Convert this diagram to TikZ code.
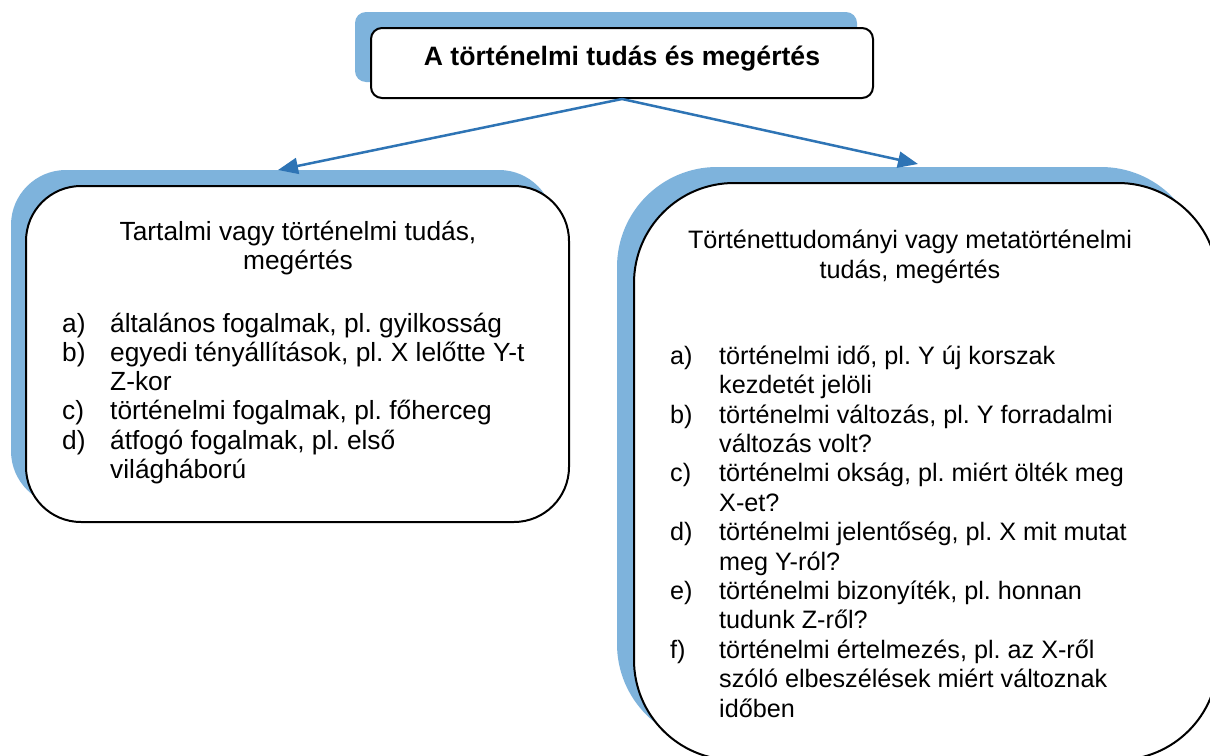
\documentclass[tikz,border=0pt]{standalone}
\usepackage{fontspec}
\setmainfont{Liberation Sans}
\usetikzlibrary{arrows.meta,calc}
\definecolor{shadowblue}{RGB}{126,179,220}
\definecolor{arrowblue}{RGB}{46,116,181}
\newcommand\mylbl[1]{\makebox[48pt][l]{#1}}
\newcommand\myind{\hspace*{48pt}}
\newcommand\mylblr[1]{\makebox[49pt][l]{#1}}
\newcommand\myindr{\hspace*{49pt}}
\begin{document}
\frenchspacing
\begin{tikzpicture}[x=1pt,y=-1pt,
  box/.style={draw=black, line width=2pt, fill=white, inner sep=0pt},
  shadowbox/.style={fill=shadowblue},
  ltxt/.style={inner sep=0pt, font=\fontsize{26.3}{29.3}\selectfont},
  rtxt/.style={inner sep=0pt, font=\fontsize{25.2}{29.4}\selectfont},
  conn/.style={draw=arrowblue, line width=2.5pt, -{Triangle[length=20pt,width=16pt]}}]
\clip (0,0) rectangle (1210,755);
\fill[white] (0,0) rectangle (1210,755);
% top box
\fill[shadowbox, rounded corners=11pt] (355,12) rectangle (857,82);
\node[box, rounded corners=11pt, minimum width=502pt, minimum height=70pt] (top) at (622,63) {};
\node[inner sep=0pt, font=\fontsize{26.6}{30}\selectfont\bfseries] (toptxt) at (622,59) {A történelmi tudás és megértés};
% left box
\fill[shadowbox, rounded corners=55pt] (11,170) rectangle (554,506);
\node[box, rounded corners=55pt, minimum width=543pt, minimum height=336pt] (left) at (297.5,354) {};
% right box
\fill[shadowbox, rounded corners=100pt] (617,167) rectangle (1201,744);
\node[box, rounded corners=100pt, minimum width=584pt, minimum height=577pt] (right) at (926,471.5) {};
% connectors
\coordinate (lend) at (278,170);
\coordinate (rend) at (918,164);
\draw[conn] (top.south) -- (lend);
\draw[conn] (top.south) -- (rend);
% left text
\node[ltxt, align=center] (ltitle) at (298,248) {Tartalmi vagy történelmi tudás,\\megértés};
\node[ltxt, align=left, anchor=base west] (litems) at (62,478.5) {%
\mylbl{a)}általános fogalmak, pl. gyilkosság\\
\mylbl{b)}egyedi tényállítások, pl. X lelőtte Y-t\\
\myind Z-kor\\
\mylbl{c)}történelmi fogalmak, pl. főherceg\\
\mylbl{d)}átfogó fogalmak, pl. első\\
\myind világháború};
% right text
\node[rtxt, align=center] (rtitle) at (910,257) {Történettudományi vagy metatörténelmi\\tudás, megértés};
\node[rtxt, align=left, anchor=base west] (ritems) at (670,717) {%
\mylblr{a)}történelmi idő, pl. Y új korszak\\
\myindr kezdetét jelöli\\
\mylblr{b)}történelmi változás, pl. Y forradalmi\\
\myindr változás volt?\\
\mylblr{c)}történelmi okság, pl. miért ölték meg\\
\myindr X-et?\\
\mylblr{d)}történelmi jelentőség, pl. X mit mutat\\
\myindr meg Y-ról?\\
\mylblr{e)}történelmi bizonyíték, pl. honnan\\
\myindr tudunk Z-ről?\\
\mylblr{f)}történelmi értelmezés, pl. az X-ről\\
\myindr szóló elbeszélések miért változnak\\
\myindr időben};
\end{tikzpicture}
\end{document}
